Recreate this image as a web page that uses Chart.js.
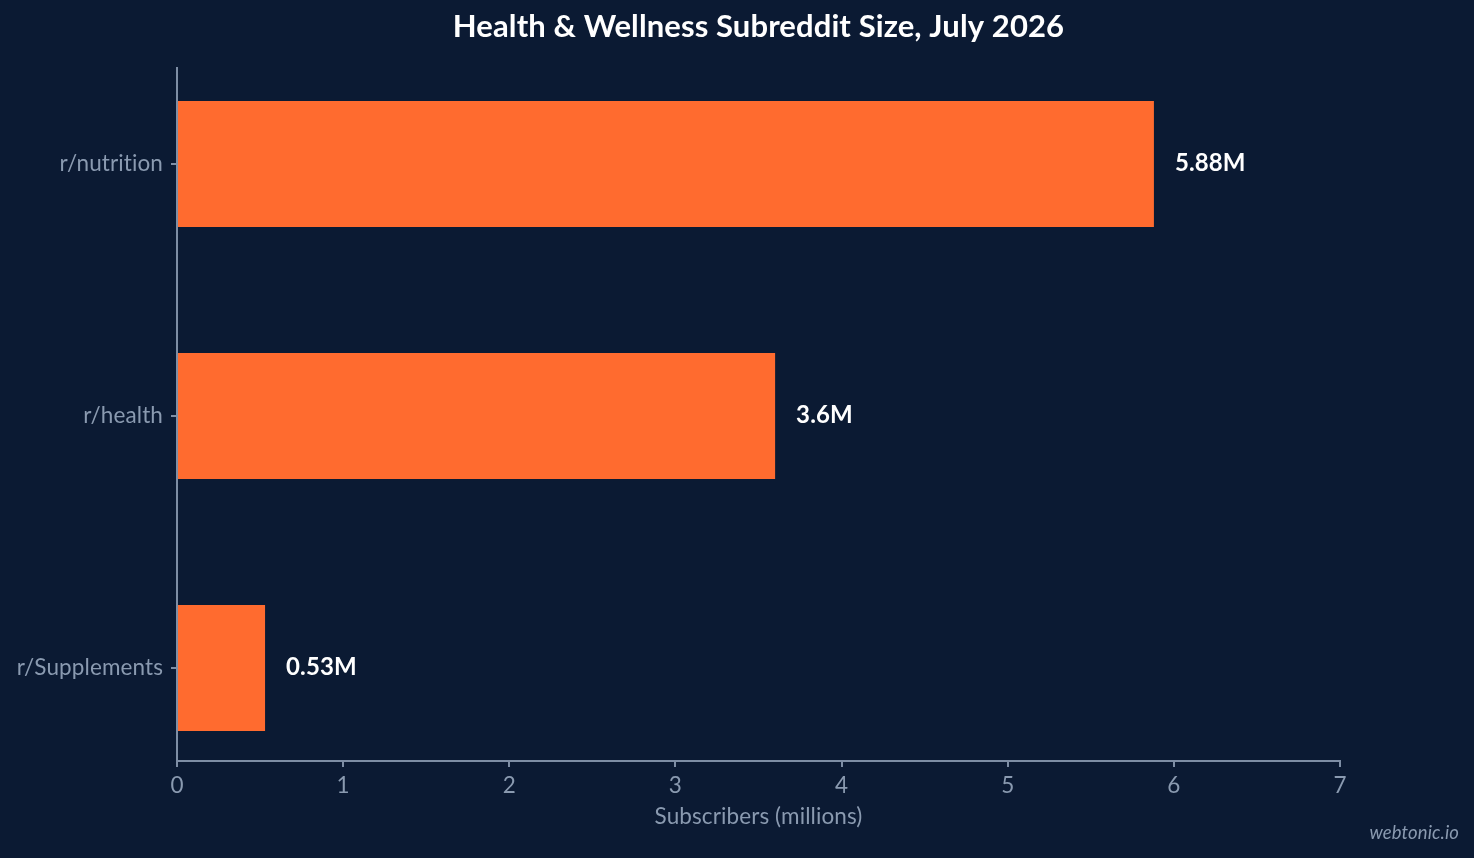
<!DOCTYPE html>
<html>
<head>
<meta charset="utf-8">
<title>Health & Wellness Subreddit Size</title>
<script src="https://cdn.jsdelivr.net/npm/chart.js@4/dist/chart.umd.min.js"></script>
<style>
  html, body { margin: 0; padding: 0; background: #0b1a33; }
  #wrap { width: 1474px; height: 858px; position: relative; }
</style>
</head>
<body>
<div id="wrap"><canvas id="subChart"></canvas></div>
<script>
// -------------------------
// Data
// -------------------------
const subreddits = ["r/nutrition", "r/health", "r/Supplements"];
const subscribers = [5.88, 3.6, 0.53];
const valueLabels = ["5.88M", "3.6M", "0.53M"];
const xTicks = [0, 1, 2, 3, 4, 5, 6, 7];

const chartTitle = "Health & Wellness Subreddit Size, July 2026";
const xAxisTitle = "Subscribers (millions)";
const watermark = "webtonic.io";

const axisColor = "#7e8ea5";
const tickColor = "#8a9ab0";
const barColor = "#ff6b2f";

// -------------------------
// Plugins: no ligatures, title over plot, value labels, watermark
// -------------------------
const overlayText = {
  id: "overlayText",
  beforeDraw(chart) {
    // Lato's "ti" ligature is not in the reference
    chart.ctx.letterSpacing = "0.1px";
  },
  afterDatasetsDraw(chart) {
    const ctx = chart.ctx;
    const area = chart.chartArea;
    ctx.save();

    // title centered over the plot area
    ctx.fillStyle = "#ffffff";
    ctx.font = "bold 31px Lato";
    ctx.textAlign = "center";
    ctx.textBaseline = "middle";
    ctx.fillText(chartTitle, (area.left + area.right) / 2, 27);

    // value labels at bar ends
    const meta = chart.getDatasetMeta(0);
    ctx.font = "bold 24px Lato";
    ctx.textAlign = "left";
    meta.data.forEach((bar, i) => {
      ctx.fillText(valueLabels[i], bar.x + 21, bar.y - 1);
    });

    // watermark
    ctx.fillStyle = tickColor;
    ctx.font = "italic 18.5px Lato";
    ctx.textAlign = "right";
    ctx.fillText(watermark, 1459, 833);

    ctx.restore();
  }
};

// -------------------------
// Chart
// -------------------------
const ctx = document.getElementById("subChart").getContext("2d");
new Chart(ctx, {
  type: "bar",
  data: {
    datasets: [{
      data: subscribers.map((v, i) => ({ x: v, y: i })),
      backgroundColor: barColor,
      borderWidth: 0,
      barPercentage: 0.5,
      categoryPercentage: 1
    }]
  },
  options: {
    indexAxis: "y",
    responsive: true,
    maintainAspectRatio: false,
    animation: false,
    layout: { padding: { top: 68, right: 134, bottom: 20, left: 0 } },
    plugins: {
      legend: { display: false },
      tooltip: { enabled: false },
      title: { display: false }
    },
    scales: {
      x: {
        type: "linear",
        min: 0,
        max: 7,
        afterBuildTicks: scale => { scale.ticks = xTicks.map(v => ({ value: v })); },
        afterFit: scale => { scale.height = 77; },
        grid: { drawOnChartArea: false, color: axisColor, tickLength: 6, lineWidth: 2 },
        border: { color: axisColor, width: 2 },
        ticks: { color: tickColor, font: { family: "Lato", size: 22.5 }, padding: 5 },
        title: {
          display: true,
          text: xAxisTitle,
          color: tickColor,
          font: { family: "Lato", size: 22.5 },
          padding: { top: 4, bottom: 8 }
        }
      },
      y: {
        type: "linear",
        reverse: true,
        offset: false,
        min: -0.381,
        max: 2.369,
        afterBuildTicks: scale => { scale.ticks = subreddits.map((s, i) => ({ value: i })); },
        afterFit: scale => { scale.width = 177; },
        grid: { offset: false, drawOnChartArea: false, color: axisColor, tickLength: 6, lineWidth: 2 },
        border: { color: axisColor, width: 2 },
        ticks: {
          color: tickColor,
          font: { family: "Lato", size: 22.5 },
          padding: 8,
          callback: value => subreddits[value]
        }
      }
    }
  },
  plugins: [overlayText]
});
</script>
</body>
</html>
